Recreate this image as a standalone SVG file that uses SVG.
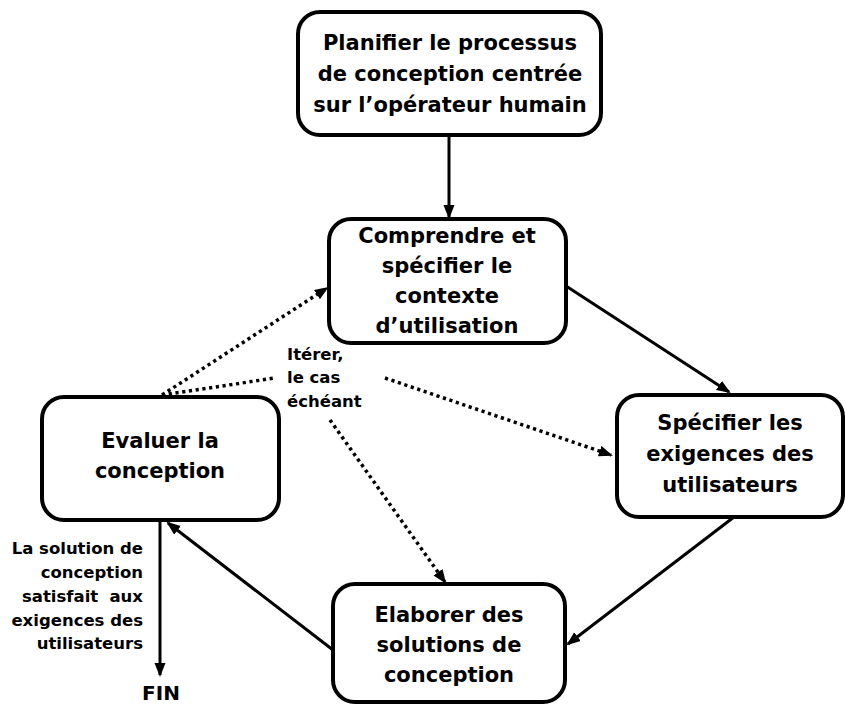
<svg xmlns="http://www.w3.org/2000/svg" width="845" height="704" viewBox="0 0 845 704">
<style>
.box{fill:#fff;stroke:#000;stroke-width:4}
.t{font-family:"DejaVu Sans",sans-serif;font-weight:bold;font-size:21px;fill:#000;text-anchor:middle}
.s{font-family:"DejaVu Sans",sans-serif;font-weight:bold;font-size:16.5px;fill:#000}
.ln{stroke:#000;stroke-width:3;fill:none}
.dt{stroke:#000;stroke-width:3.5;fill:none;stroke-dasharray:3.2 3.6}
</style>
<defs>
<marker id="ah" markerUnits="userSpaceOnUse" markerWidth="16" markerHeight="13" refX="12" refY="5.5" orient="auto">
<path d="M0,0 L14,5.5 L0,11 z" fill="#000"/>
</marker>
</defs>
<rect width="845" height="704" fill="#fff"/>
<g id="connectors">
<line class="ln" x1="449" y1="135" x2="449" y2="217" marker-end="url(#ah)"/>
<line class="ln" x1="566" y1="286" x2="729" y2="392" marker-end="url(#ah)"/>
<line class="ln" x1="734" y1="517" x2="568" y2="644" marker-end="url(#ah)"/>
<line class="ln" x1="333" y1="650" x2="168" y2="523" marker-end="url(#ah)"/>
<line class="ln" x1="160" y1="520" x2="160" y2="675" marker-end="url(#ah)"/>
<line class="dt" x1="162" y1="395" x2="327" y2="288" marker-end="url(#ah)"/>
<line class="dt" x1="162" y1="395" x2="275" y2="378"/>
<line class="dt" x1="385" y1="378" x2="611" y2="455" marker-end="url(#ah)"/>
<line class="dt" x1="330" y1="420" x2="445" y2="582" marker-end="url(#ah)"/>
</g>
<g id="n1">
<rect class="box" x="298" y="12" width="303" height="123" rx="22"/>
<text class="t" x="450" y="50">Planifier le processus</text>
<text class="t" x="450" y="81">de conception centrée</text>
<text class="t" x="450" y="112">sur l’opérateur humain</text>
</g>
<g id="n2">
<rect class="box" x="329" y="219" width="237" height="124" rx="22"/>
<text class="t" x="447" y="243">Comprendre et</text>
<text class="t" x="447" y="273">spécifier le</text>
<text class="t" x="447" y="303">contexte</text>
<text class="t" x="447" y="333">d’utilisation</text>
</g>
<g id="n3">
<rect class="box" x="42" y="397" width="237" height="123" rx="22"/>
<text class="t" x="160" y="448">Evaluer la</text>
<text class="t" x="160" y="478">conception</text>
</g>
<g id="n4">
<rect class="box" x="617" y="395" width="226" height="122" rx="22"/>
<text class="t" x="730" y="430">Spécifier les</text>
<text class="t" x="730" y="461">exigences des</text>
<text class="t" x="730" y="492">utilisateurs</text>
</g>
<g id="n5">
<rect class="box" x="333" y="584" width="232" height="118" rx="22"/>
<text class="t" x="449" y="622">Elaborer des</text>
<text class="t" x="449" y="652">solutions de</text>
<text class="t" x="449" y="682">conception</text>
</g>
<g id="label-iterer">
<text class="s" x="287" y="360">Itérer,</text>
<text class="s" x="287" y="383">le cas</text>
<text class="s" x="287" y="407">échéant</text>
</g>
<g id="label-fin-cond">
<text class="s" x="143" y="554" text-anchor="end">La solution de</text>
<text class="s" x="143" y="578" text-anchor="end">conception</text>
<text class="s" y="602"><tspan x="22">satisfait</tspan><tspan x="143" text-anchor="end">aux</tspan></text>
<text class="s" x="143" y="626" text-anchor="end">exigences des</text>
<text class="s" x="143" y="649" text-anchor="end">utilisateurs</text>
</g>
<g id="fin">
<text class="t" x="161" y="700" style="font-size:20px">FIN</text>
</g>
</svg>
